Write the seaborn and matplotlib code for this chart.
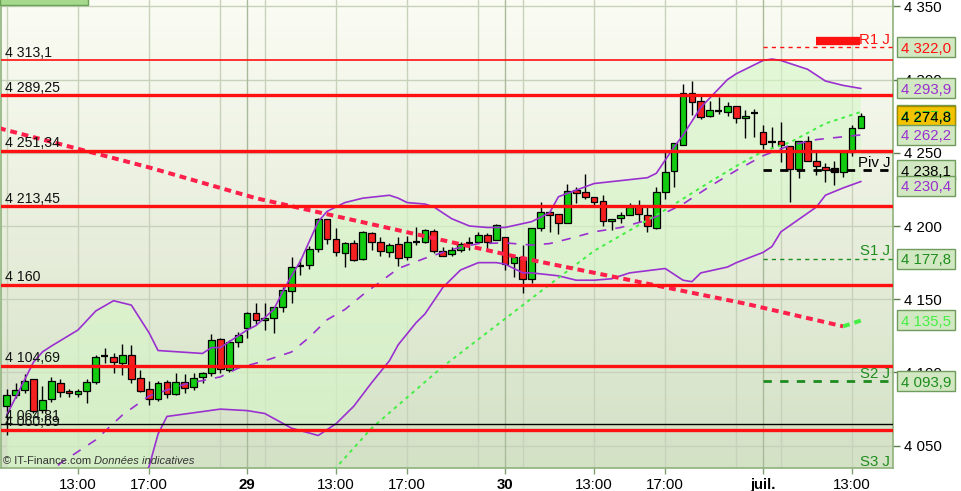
import numpy as np
import pandas as pd
import matplotlib.pyplot as plt
import matplotlib.transforms as mtransforms
from matplotlib.colors import LinearSegmentedColormap
from matplotlib.patches import Rectangle
import seaborn as sns

# ── Style ──────────────────────────────────────────────────────────
sns.set_theme(style='white')
plt.rcParams['font.family'] = ['Liberation Sans', 'DejaVu Sans']

RED     = '#ff1111'
PURPLE  = '#9a30d0'
LIME    = '#44ee44'
DKGREEN = '#1e8c1e'
SPINE   = '#8fb27c'
GRID    = '#c8d2bb'
DAYGRID = '#a9ba9a'

# ── Data: 30-minute candles, 28 juin 09:00 -> 1 juil. 13:30 ───────
opens = [4077.1, 4084.4, 4087.8, 4095.3, 4074.4, 4081.7, 4092.6, 4087.3, 4085.3, 4087.6,
         4093.3, 4111.2, 4110.4, 4106.3, 4111.9, 4096.0, 4088.5, 4081.7, 4093.3, 4085.3,
         4093.7, 4089.9, 4097.1, 4099.4, 4122.6, 4101.7, 4120.6, 4130.2, 4140.6, 4135.8,
         4137.0, 4144.5, 4155.8, 4172.9, 4173.4, 4184.1, 4204.6, 4190.9, 4181.8, 4188.2,
         4177.3, 4195.0, 4189.1, 4182.5, 4187.5, 4178.6, 4188.9, 4188.9, 4196.6, 4182.9,
         4180.9, 4183.6, 4188.4, 4189.1, 4193.9, 4190.6, 4192.3, 4174.7, 4178.6, 4163.6,
         4198.4, 4209.6, 4208.0, 4201.8, 4224.6, 4223.0, 4219.8, 4216.9, 4203.2, 4205.3,
         4207.3, 4213.9, 4207.3, 4198.8, 4223.0, 4237.8, 4255.5, 4290.6, 4285.3, 4275.3,
         4278.7, 4278.0, 4281.9, 4273.9, 4277.4, 4264.0, 4257.3, 4257.8, 4254.8, 4238.7,
         4258.2, 4244.4, 4240.1, 4239.4, 4236.7, 4250.7, 4266.9]
highs = [4088.7, 4093.0, 4098.8, 4095.5, 4090.8, 4097.1, 4095.3, 4088.9, 4088.5, 4095.3,
         4111.9, 4116.5, 4113.1, 4119.2, 4118.8, 4101.7, 4094.2, 4094.4, 4094.9, 4099.4,
         4098.8, 4099.4, 4100.5, 4126.3, 4123.3, 4122.2, 4127.8, 4141.5, 4147.2, 4147.2,
         4144.9, 4158.6, 4179.0, 4177.3, 4186.3, 4205.3, 4204.8, 4198.8, 4189.3, 4190.4,
         4196.8, 4196.1, 4192.7, 4188.6, 4192.3, 4193.2, 4199.1, 4197.7, 4198.0, 4185.9,
         4185.9, 4189.1, 4192.7, 4195.9, 4195.0, 4201.2, 4192.7, 4179.5, 4186.8, 4198.4,
         4216.2, 4210.2, 4208.0, 4228.7, 4226.6, 4235.5, 4219.8, 4221.2, 4204.6, 4209.8,
         4215.5, 4217.8, 4212.8, 4226.4, 4250.4, 4256.5, 4296.9, 4299.0, 4289.4, 4285.3,
         4288.3, 4284.5, 4281.9, 4279.2, 4279.7, 4269.0, 4267.4, 4270.8, 4254.8, 4257.8,
         4261.4, 4250.3, 4242.8, 4244.6, 4250.3, 4269.0, 4276.9]
lows = [4057.3, 4082.6, 4085.8, 4072.3, 4072.1, 4080.0, 4083.5, 4083.0, 4083.0, 4079.4,
        4091.9, 4106.7, 4099.4, 4098.3, 4093.0, 4086.9, 4077.8, 4080.7, 4082.4, 4084.6,
        4085.8, 4088.0, 4092.6, 4097.6, 4099.4, 4100.3, 4117.6, 4123.3, 4133.1, 4129.0,
        4126.7, 4141.5, 4147.2, 4166.5, 4170.4, 4182.2, 4187.7, 4179.5, 4172.2, 4176.3,
        4176.8, 4183.6, 4179.7, 4179.0, 4172.7, 4176.8, 4187.0, 4188.2, 4181.6, 4179.3,
        4179.7, 4182.5, 4183.6, 4188.2, 4184.1, 4190.2, 4170.0, 4165.4, 4154.1, 4161.3,
        4196.8, 4196.1, 4194.3, 4201.8, 4215.5, 4218.2, 4214.3, 4200.0, 4197.3, 4202.3,
        4207.3, 4202.9, 4195.9, 4198.0, 4218.2, 4226.8, 4255.5, 4275.8, 4273.1, 4274.6,
        4276.5, 4275.3, 4270.5, 4260.3, 4261.0, 4252.4, 4253.0, 4243.9, 4216.2, 4232.6,
        4244.2, 4234.8, 4230.2, 4228.0, 4233.7, 4248.0, 4266.9]
closes = [4084.6, 4087.8, 4094.4, 4073.9, 4081.0, 4094.2, 4086.9, 4086.0, 4087.3, 4093.3,
          4110.4, 4111.2, 4106.9, 4111.9, 4095.3, 4087.6, 4081.7, 4092.6, 4085.3, 4093.7,
          4089.2, 4096.0, 4099.8, 4122.2, 4102.4, 4120.6, 4125.4, 4140.4, 4135.8, 4137.0,
          4144.9, 4156.3, 4172.2, 4172.9, 4184.3, 4204.6, 4190.9, 4182.2, 4188.6, 4176.8,
          4195.7, 4189.1, 4183.1, 4186.8, 4177.9, 4188.9, 4188.9, 4197.1, 4182.7, 4179.7,
          4183.6, 4187.7, 4188.4, 4193.9, 4188.9, 4200.5, 4173.9, 4178.6, 4163.6, 4198.4,
          4209.4, 4207.5, 4201.8, 4223.9, 4222.7, 4220.0, 4216.6, 4203.2, 4204.6, 4207.3,
          4212.8, 4208.0, 4199.8, 4223.0, 4237.2, 4256.5, 4290.6, 4284.9, 4274.6, 4279.2,
          4278.7, 4281.9, 4273.9, 4275.3, 4277.4, 4256.2, 4257.3, 4255.1, 4238.7, 4257.8,
          4244.6, 4241.0, 4238.2, 4237.1, 4250.3, 4267.1, 4274.8]

# Bollinger bands (candle index -> level)
bb_up_idx = [0, 1, 2, 3, 4, 5, 8, 10, 12, 14, 16, 17, 22, 23, 24, 25, 27, 28, 30, 31,
             32, 33, 35, 36, 38, 40, 43, 44, 45, 47, 48, 50, 52, 54, 56, 59, 61, 62, 66,
             72, 73, 74, 75, 76, 78, 81, 82, 85, 86, 87, 90, 92, 94, 96]
bb_up_val = [4071, 4083, 4095, 4107, 4114, 4118, 4129, 4142, 4149, 4146, 4127, 4115, 4113,
             4117, 4117, 4121, 4129, 4132, 4143, 4155, 4166, 4176, 4203, 4210, 4216, 4219,
             4221, 4219, 4216, 4215, 4213, 4205, 4200, 4199, 4199, 4203, 4209, 4220, 4229,
             4233, 4236, 4245, 4254, 4262, 4281, 4300, 4304, 4313, 4314, 4313, 4307, 4299,
             4296, 4293.9]
bb_mid_idx = [0, 6, 10, 13, 16, 20, 24, 26, 29, 32, 34, 36, 38, 40, 42, 44, 47, 50, 53,
              56, 59, 61, 63, 66, 69, 72, 74, 76, 79, 82, 85, 88, 91, 96]
bb_mid_val = [4000, 4038, 4054, 4071, 4084, 4092, 4097, 4103, 4108, 4114, 4124, 4136,
              4143, 4153, 4162, 4171, 4178, 4184, 4188, 4188.5, 4187, 4188, 4191, 4196,
              4199, 4204, 4209, 4215, 4227, 4238, 4248, 4255, 4259, 4262.2]
bb_low_idx = [0, 5, 10, 13, 15, 16, 17, 18, 24, 27, 29, 32, 35, 37, 39, 41, 43, 44, 46,
              47, 49, 51, 53, 55, 56, 58, 59, 62, 64, 66, 68, 70, 74, 76, 77, 78, 81, 82,
              85, 86, 87, 91, 92, 94, 96]
bb_low_val = [3930, 3955, 3968, 3997, 4022, 4036, 4058, 4070, 4075, 4074, 4072, 4062,
              4057, 4065, 4077, 4093, 4108, 4119, 4134, 4140, 4158, 4170, 4175, 4175,
              4174, 4168, 4168, 4166, 4163, 4163, 4164, 4168, 4171, 4163, 4162, 4168,
              4172, 4175, 4182, 4186, 4196, 4213, 4221, 4226, 4230.4]

# long moving average (green dotted)
ma_idx = [35, 37, 41, 49, 61, 66, 70, 74, 79, 82, 85, 88, 92, 96]
ma_val = [4022, 4035, 4062, 4104, 4160, 4183, 4197, 4211, 4230, 4241, 4251, 4257, 4270, 4277.9]

# trend line (red), turning green at the end
trend_idx = [-1, 16, 28, 58, 83, 94]
trend_val = [4267, 4240, 4219, 4178, 4147, 4131.5]
trend_up_idx = [94, 96]
trend_up_val = [4131.5, 4135.5]

# supports / resistances
levels     = [4313.1, 4289.25, 4251.34, 4213.45, 4160.0, 4104.69, 4064.81, 4060.69]
level_lbls = ['4 313,1', '4 289,25', '4 251,34', '4 213,45', '4 160', '4 104,69', '4 064,81', '4 060,69']

# daily pivots
piv_names = ['R1 J', 'Piv J', 'S1 J', 'S2 J', 'S3 J']
piv_vals  = [4322.0, 4238.1, 4177.8, 4093.9, 4033.6]

# x axis
tick_idx  = [8, 16, 27, 37, 45, 56, 66, 74, 85, 95]
tick_lbls = ['13:00', '17:00', '29', '13:00', '17:00', '30', '13:00', '17:00', 'juil.', '13:00']
day_idx   = [27, 56, 85]
grid_idx  = [0, 8, 16, 24, 29, 37, 45, 53, 58, 66, 74, 82, 87, 95]

# right-hand value tags
tag_vals = [4322.0, 4293.9, 4277.9, 4274.8, 4262.2, 4238.1, 4230.4, 4177.8, 4135.5, 4093.9]
tag_cols = [RED, PURPLE, '#33cc33', 'black', PURPLE, 'black', PURPLE, DKGREEN, LIME, DKGREEN]

df = pd.DataFrame({'o': opens, 'h': highs, 'l': lows, 'c': closes})
df['i'] = np.arange(len(df))

XMIN, XMAX = -0.65, 99.6
YMIN, YMAX = 4034.8, 4354.3
PX = 1.4647  # pixels per index point

fig = plt.figure(figsize=(9.61, 4.91), dpi=100)
ax = fig.add_axes([1 / 961, 23 / 491, 892 / 961, 468 / 491])

# background gradient
bg = LinearSegmentedColormap.from_list('bg', ['#d3e1c5', '#e8eedc', '#fbfcf4'])
ax.imshow(np.linspace(0, 1, 256).reshape(-1, 1), extent=[XMIN, XMAX, YMIN, YMAX],
          origin='lower', aspect='auto', cmap=bg, zorder=0)

# grid
for v in range(4050, 4351, 50):
    ax.axhline(v, color=GRID, lw=1, zorder=0.5)
for i in grid_idx:
    ax.axvline(i, color=GRID, lw=1, zorder=0.5)
for i in day_idx:
    ax.axvline(i, color=DAYGRID, lw=1, zorder=0.6)

# band fill
ax.fill(np.r_[bb_up_idx, bb_low_idx[::-1]], np.r_[bb_up_val, bb_low_val[::-1]],
        color='#d6f7c8', alpha=0.6, lw=0, zorder=1)

# candles
up = df.c > df.o
dn = df.c < df.o
flat = df.c == df.o
ax.vlines(df.i, df.l, df.h, color='black', lw=1, zorder=3)
ax.bar(df.i[up], (df.c - df.o)[up], bottom=df.o[up], width=0.76, color='#12cc12',
       edgecolor='black', linewidth=0.9, zorder=3.5)
ax.bar(df.i[dn], (df.c - df.o)[dn], bottom=df.o[dn], width=0.76, color='#f42020',
       edgecolor='black', linewidth=0.9, zorder=3.5)
ax.hlines(df.c[flat], df.i[flat] - 0.4, df.i[flat] + 0.4, color='black', lw=1.6, zorder=3.6)

# indicators
sns.lineplot(x=bb_up_idx, y=bb_up_val, ax=ax, color=PURPLE, lw=1.2, zorder=4)
sns.lineplot(x=bb_low_idx, y=bb_low_val, ax=ax, color=PURPLE, lw=1.2, zorder=4)
ax.plot(bb_mid_idx, bb_mid_val, color=PURPLE, lw=1.2, dashes=(5.5, 5.5), zorder=4)
ax.plot(ma_idx, ma_val, color=LIME, lw=1.4, dashes=(1.8, 2.2), zorder=4)
ax.plot(trend_idx, trend_val, color='#ff1f4b', lw=2.9, dashes=(1.7, 1.2), zorder=4.5)
ax.plot(trend_up_idx, trend_up_val, color=LIME, lw=2.9, dashes=(1.7, 1.2), zorder=4.5)

# support / resistance levels
blend = mtransforms.blended_transform_factory(ax.transAxes, ax.transData)
for v, lbl in zip(levels, level_lbls):
    if lbl == '4 064,81':
        ax.axhline(v, color='black', lw=1, zorder=5)
    else:
        ax.axhline(v, color=RED, lw=1.2 if v > 4300 else 2.4, zorder=5)
    ax.text(0.0045, v + 3.7 / PX, lbl, transform=blend, fontsize=10.2,
            color='#111111', va='baseline', ha='left', zorder=6)

# pivots
piv_style = {'R1 J': (RED, 1, (3, 3)), 'Piv J': ('black', 2, (3, 3)),
             'S1 J': (DKGREEN, 1, (3, 3)), 'S2 J': (DKGREEN, 2, (3, 3)),
             'S3 J': (DKGREEN, 1, (3, 3))}
for name, v in zip(piv_names, piv_vals):
    col, lw, ds = piv_style[name]
    ax.plot([day_idx[-1], XMAX], [v, v], color=col, lw=lw, dashes=ds, zorder=5)
    tcol = 'black' if name == 'Piv J' else col
    ax.text(0.997, v + 3.5 / PX, name, transform=blend, fontsize=10.8, color=tcol,
            ha='right', va='baseline', zorder=6, clip_on=False)
ax.plot([0.914, 0.963], [piv_vals[0] + 6 / PX] * 2, transform=blend, color=RED,
        lw=6, solid_capstyle='butt', zorder=6)

# axes cosmetics
ax.set_xlim(XMIN, XMAX)
ax.set_ylim(YMIN, YMAX)
ax.set_xlabel('')
ax.set_ylabel('')
for s in ['left', 'bottom', 'right']:
    ax.spines[s].set_color(SPINE)
    ax.spines[s].set_linewidth(1.2)
ax.spines['top'].set_visible(False)

ax.yaxis.tick_right()
yt = list(range(4050, 4351, 50))
ax.set_yticks(yt)
ax.set_yticklabels([f'{v // 1000} {v % 1000:03d}' for v in yt])
ax.tick_params(axis='y', right=True, left=False, length=5, width=1, color='#5f7f50',
               pad=3, labelsize=10.8, labelcolor='black')
ax.set_xticks(tick_idx)
ax.set_xticklabels(tick_lbls)
ax.tick_params(axis='x', bottom=True, length=4, width=1, color='#7f9f70', pad=3,
               labelsize=10.8, labelcolor='black')
for t, lbl in zip(ax.get_xticklabels(), tick_lbls):
    if lbl in ('29', '30', 'juil.'):
        t.set_fontweight('bold')

# right-hand tags
nudge = {4230.4: -4.5, 4277.9: -3.5}
for v, col in zip(tag_vals, tag_cols):
    yc = v + nudge.get(v, 0) / PX
    face = '#f3c300' if v == closes[-1] else '#d2e8c2'
    edge = '#a08a00' if v == closes[-1] else '#6f9c5c'
    ax.add_patch(Rectangle((1.0045, yc - 10 / PX), 0.0650, 20 / PX, transform=blend,
                           facecolor=face, edgecolor=edge, lw=1, clip_on=False, zorder=8))
    txt = f'{int(v) // 1000} {v % 1000:05.1f}'.replace('.', ',')
    ax.text(1.0085, yc, txt, transform=blend, fontsize=10.8, color=col,
            ha='left', va='center_baseline', zorder=9, clip_on=False)

# watermark + top tab
ax.text(0.0022, 0.009, '© IT-Finance.com', transform=ax.transAxes, fontsize=8.0,
        color='#333333', zorder=7)
ax.text(0.1045, 0.009, 'Données indicatives', transform=ax.transAxes, fontsize=8.0,
        color='#333333', style='italic', zorder=7)
fig.patches.append(Rectangle((0, 1 - 5 / 491), 88 / 961, 8 / 491, transform=fig.transFigure,
                             facecolor='#a6d98e', edgecolor='#6aa055', lw=1))

plt.savefig('out.png', dpi=100)
